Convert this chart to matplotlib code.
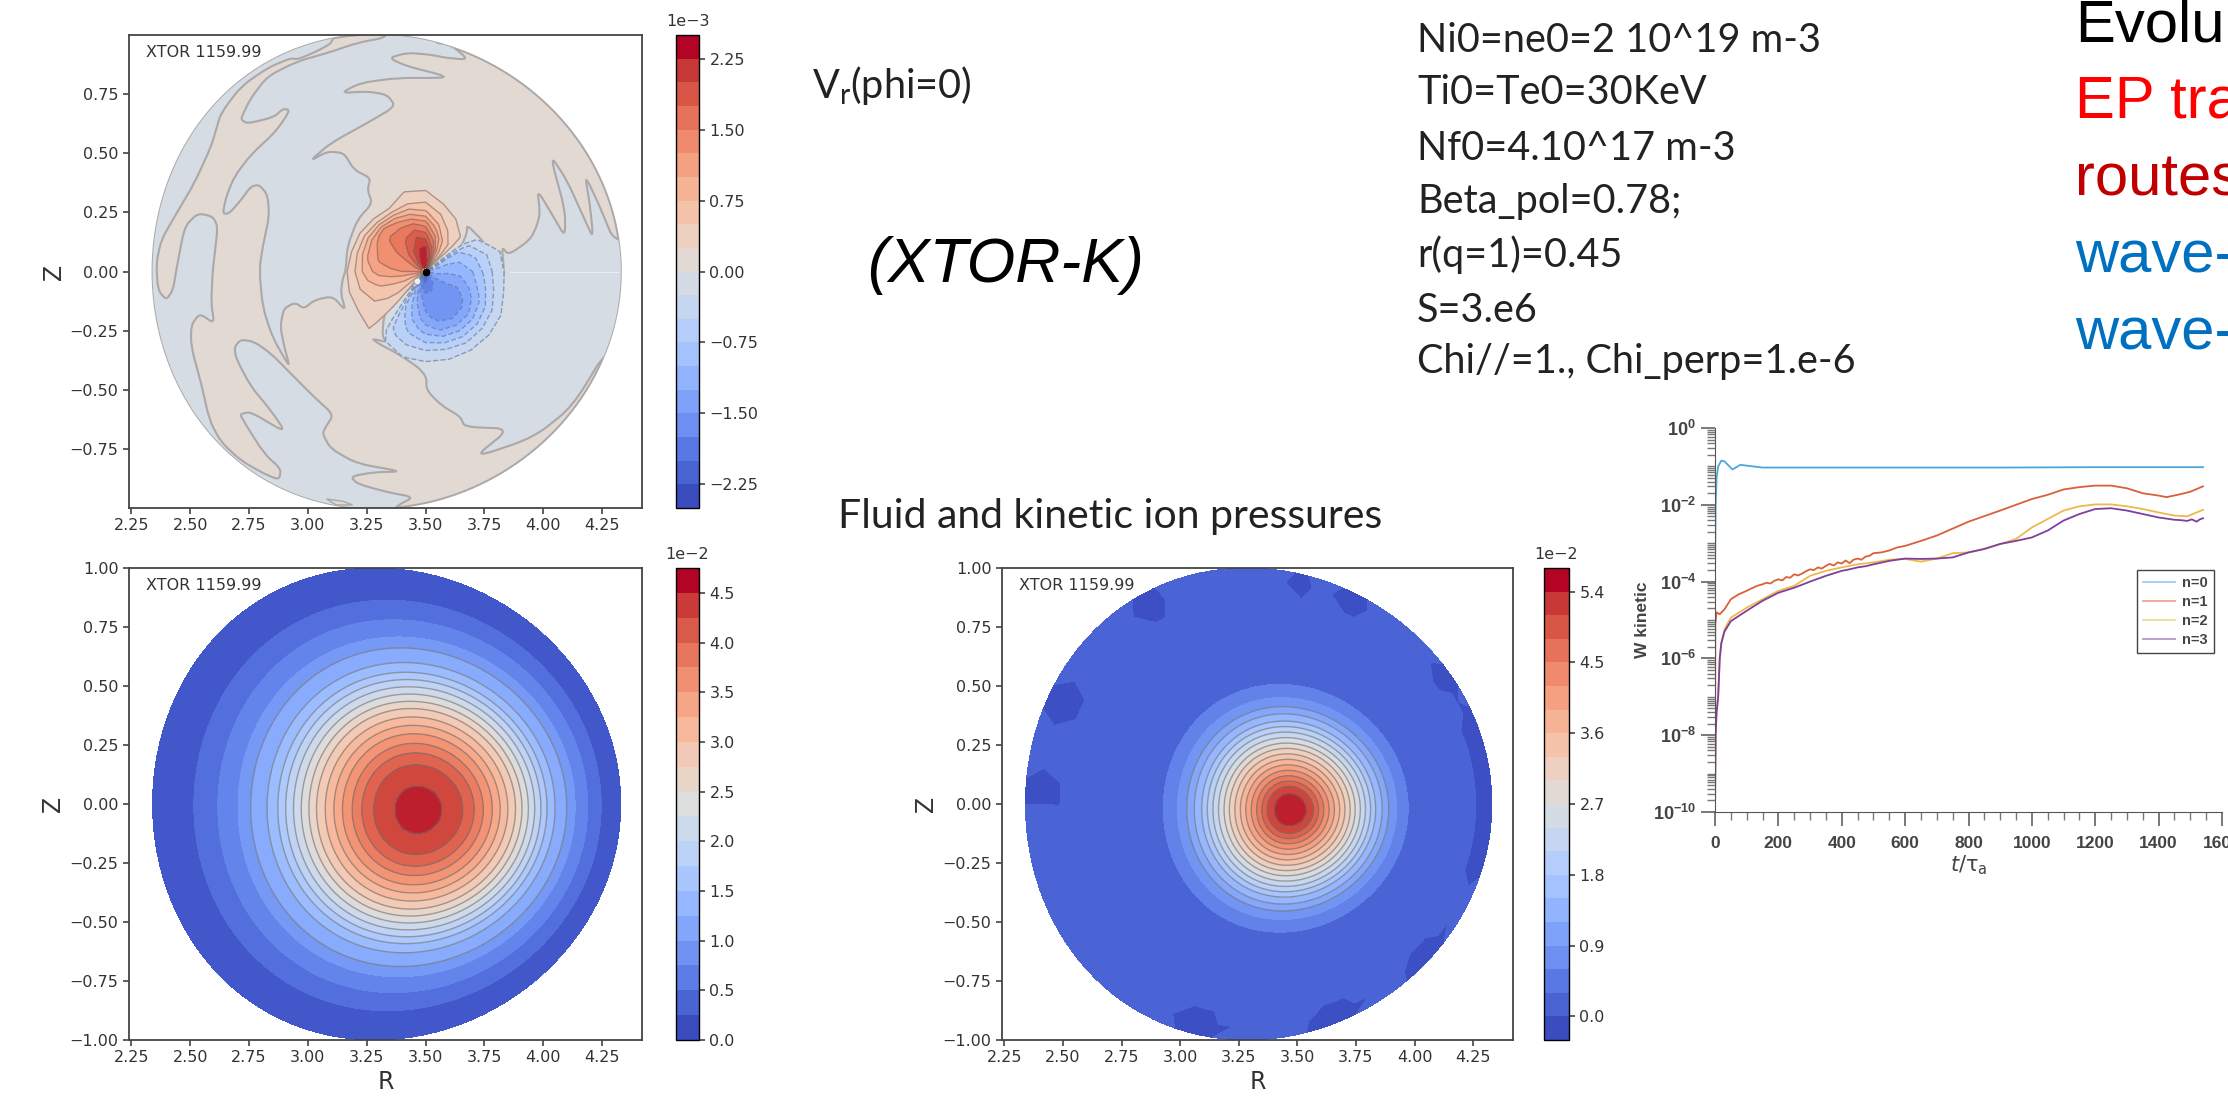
import numpy as np
import matplotlib
matplotlib.use("Agg")
from matplotlib import pyplot as plt
from matplotlib import cm
from matplotlib.colors import BoundaryNorm, Normalize
from matplotlib.path import Path
from matplotlib.patches import PathPatch
from matplotlib.ticker import LogLocator, NullFormatter

W, H = 2228, 1099

# ---- Vr panel, levels in units of 1e-3 ----
vr_levels = [-2.5, -2.25, -2.0, -1.75, -1.5, -1.25, -1.0, -0.75, -0.5, -0.25, 0.0,
             0.25, 0.5, 0.75, 1.0, 1.25, 1.5, 1.75, 2.0, 2.25, 2.5]
vr_ticks = [-2.25, -1.5, -0.75, 0.0, 0.75, 1.5, 2.25]

# zero contour, grey regions (R, Z)
rim_zero = [(3.112, .972), (3.055, .937), (2.956, .894), (2.928, .901), (2.829, .859), (2.716, .781),
            (2.631, .669), (2.61, .598), (2.589, .528), (2.518, .373), (2.434, .232), (2.377, .133),
            (2.356, .035), (2.363, -.078), (2.398, -.12), (2.427, -.078), (2.441, .006), (2.476, .19),
            (2.533, .246), (2.596, .232), (2.617, .19), (2.603, .063), (2.596, .006), (2.589, -.135),
            (2.603, -.22), (2.54, -.177), (2.504, -.227), (2.504, -.318), (2.547, -.473), (2.582, -.628),
            (2.631, -.72), (2.716, -.798), (2.815, -.854), (2.878, -.879), (2.886, -.833), (2.815, -.77),
            (2.716, -.614), (2.716, -.6), (2.759, -.593), (2.907, -.681), (2.843, -.586), (2.759, -.487),
            (2.695, -.367), (2.688, -.318), (2.716, -.287), (2.773, -.297), (2.843, -.346), (2.928, -.431),
            (3.027, -.53), (3.109, -.604), (3.076, -.656), (3.062, -.684), (3.097, -.748), (3.21, -.811),
            (3.401, -.844), (3.281, -.847), (3.182, -.865), (3.21, -.896), (3.337, -.931), (3.45, -.952),
            (3.38, -.988), (3.366, -1.01), (3.30, -1.15), (2.0, -1.15), (2.0, 1.15), (3.11, 1.15)]

spiral_zero = [(3.344, .99), (3.344, 1.1), (3.535, 1.1), (3.535, .965), (3.605, .958), (3.683, .894),
               (3.591, .901), (3.521, .915), (3.422, .923), (3.344, .901), (3.422, .866), (3.563, .831),
               (3.584, .817), (3.38, .817), (3.224, .796), (3.14, .753), (3.253, .76), (3.337, .746),
               (3.373, .697), (3.253, .627), (3.097, .542), (3.006, .464), (3.083, .507), (3.154, .5),
               (3.196, .429), (3.267, .394), (3.253, .345), (3.274, .288), (3.21, .218), (3.168, .105),
               (3.161, .006), (3.147, -.036), (3.14, -.093), (3.161, -.166), (3.105, -.104), (3.027, -.121),
               (2.984, -.157), (2.945, -.131), (2.897, -.157), (2.883, -.234), (2.9, -.318), (2.921, -.395),
               (2.907, -.377), (2.85, -.278), (2.808, -.15), (2.794, .006), (2.808, .105), (2.836, .232),
               (2.829, .323), (2.794, .366), (2.758, .359), (2.716, .302), (2.667, .246), (2.638, .243),
               (2.653, .316), (2.688, .401), (2.758, .493), (2.857, .584), (2.907, .652), (2.921, .683),
               (2.893, .686), (2.857, .652), (2.744, .624), (2.716, .641), (2.723, .662), (2.758, .732),
               (2.829, .824), (2.956, .887), (3.083, .922), (3.21, .965)]

right_zero = [(4.304, .119), (4.241, .274), (4.177, .408), (4.198, .288), (4.213, .14), (4.177, .218),
              (4.1, .387), (4.029, .493), (4.093, .26), (4.093, .147), (4.043, .232), (3.975, .345),
              (3.987, .246), (3.972, .19), (3.944, .133), (3.852, .07), (3.824, .105), (3.834, .006),
              (3.824, -.092), (3.782, -.191), (3.803, -.092), (3.815, -.022), (3.796, .049), (3.747, .126),
              (3.676, .197), (3.676, .161), (3.648, .098), (3.563, .042), (3.514, -.001), (3.408, -.092),
              (3.344, -.135), (3.323, -.191), (3.316, -.275), (3.34, -.299), (3.27, -.283), (3.312, -.311),
              (3.369, -.339), (3.468, -.403), (3.504, -.445), (3.504, -.5), (3.567, -.565), (3.648, -.612),
              (3.666, -.656), (3.859, -.663), (3.703, -.787), (3.96, -.70), (4.125, -.569), (4.281, -.313),
              (4.6, -.31), (4.6, .12)]

bottom_sliver = [(3.08, -.96), (3.15, -.97), (3.19, -.985), (3.12, -.985)]

# dipole around (3.5, 0): rows are angle, columns are radius
core_r = [0.015, 0.05, 0.1, 0.15, 0.2, 0.25, 0.3, 0.34, 0.38, 0.42]
core_deg = [0, 15, 30, 45, 60, 75, 90, 105, 120, 135, 150, 165, 180, 195, 210, 225, 240, 255, 270, 285,
            300, 315, 330, 345, 360]
core_v = [
    [-1.1, -1.1, -1.2, -1.15, -1.0, -.7, -.4, -.22, -.05, -.05],
    [-.9, -1.0, -1.05, -1.0, -.85, -.6, -.35, -.2, -.05, -.05],
    [-.4, -.6, -.8, -.8, -.6, -.3, -.1, -.05, -.05, -.05],
    [.3, .3, .4, .4, .3, .05, .05, .05, .05, .05],
    [1.1, 1.0, .9, .7, .45, .28, .05, .05, .05, .05],
    [2.3, 2.1, 1.8, 1.3, .8, .5, .22, .05, .05, .05],
    [2.45, 2.4, 2.3, 1.9, 1.4, .8, .45, .26, .05, .05],
    [2.45, 2.4, 2.25, 2.0, 1.6, 1.0, .45, .3, .05, .05],
    [2.3, 2.2, 2.0, 1.8, 1.6, 1.15, .3, .05, .05, .05],
    [2.0, 1.9, 1.75, 1.65, 1.55, 1.3, .35, .05, .05, .05],
    [1.8, 1.6, 1.5, 1.45, 1.4, 1.2, .5, .05, .05, .05],
    [1.5, 1.4, 1.4, 1.35, 1.3, 1.05, .5, .1, .05, .05],
    [1.2, 1.25, 1.25, 1.2, 1.1, .9, .5, .2, .05, .05],
    [.9, .9, .9, .85, .8, .65, .45, .22, .05, .05],
    [.4, .6, .65, .6, .55, .5, .4, .2, .05, .05],
    [.0, .1, .3, .4, .4, .35, .3, .25, .05, .05],
    [-1.8, -1.3, -.9, -.8, -.65, -.55, -.45, -.25, -.05, -.05],
    [-2.3, -1.9, -1.4, -1.2, -1.05, -.85, -.6, -.4, -.22, -.05],
    [-2.4, -2.0, -1.7, -1.55, -1.4, -1.1, -.75, -.45, -.25, -.05],
    [-2.2, -1.9, -1.7, -1.7, -1.6, -1.3, -.85, -.5, -.27, -.05],
    [-2.0, -1.8, -1.65, -1.7, -1.7, -1.35, -.9, -.55, -.27, -.05],
    [-1.8, -1.6, -1.6, -1.7, -1.6, -1.3, -.85, -.5, -.25, -.05],
    [-1.5, -1.45, -1.5, -1.55, -1.4, -1.1, -.7, -.4, -.2, -.05],
    [-1.3, -1.3, -1.35, -1.35, -1.15, -.85, -.5, -.27, -.05, -.05],
    [-1.1, -1.1, -1.2, -1.15, -1.0, -.7, -.4, -.22, -.05, -.05],
]

# ---- fluid pressure, units of 1e-2 ----
p_levels = [0.0, 0.25, 0.5, 0.75, 1.0, 1.25, 1.5, 1.75, 2.0, 2.25, 2.5, 2.75, 3.0, 3.25, 3.5, 3.75,
            4.0, 4.25, 4.5, 4.75]
p_ticks = [0.0, 0.5, 1.0, 1.5, 2.0, 2.5, 3.0, 3.5, 4.0, 4.5]
p_rho = [0.0, .10, .19, .24, .28, .32, .355, .39, .425, .455, .485, .515, .545, .575, .615, .675,
         .72, .79, .87, 1.0]
p_val = [4.75, 4.5, 4.25, 4.0, 3.75, 3.5, 3.25, 3.0, 2.75, 2.5, 2.25, 2.0, 1.75, 1.5, 1.25, 1.0,
         0.75, 0.5, 0.25, 0.0]

# ---- kinetic pressure, units of 1e-2 ----
k_levels = [-0.3, 0.0, 0.3, 0.6, 0.9, 1.2, 1.5, 1.8, 2.1, 2.4, 2.7, 3.0, 3.3, 3.6, 3.9, 4.2, 4.5,
            4.8, 5.1, 5.4, 5.7]
k_ticks = [0.0, 0.9, 1.8, 2.7, 3.6, 4.5, 5.4]
k_fill_levels = [-0.3, -0.2, 0.3, 0.6, 0.9, 1.2, 1.5, 1.8, 2.1, 2.4, 2.7, 3.0, 3.3, 3.6, 3.9, 4.2, 4.5,
                 4.8, 5.1, 5.4, 5.7]
k_rho = [0.0, .068, .099, .122, .144, .167, .19, .213, .236, .259, .281, .304, .327, .35, .373, .403,
         .433, .47, .525, .7, .84, .9, .95, 1.0]
k_val = [5.7, 5.4, 5.1, 4.8, 4.5, 4.2, 3.9, 3.6, 3.3, 3.0, 2.7, 2.4, 2.1, 1.8, 1.5, 1.2, 0.9, 0.6, 0.3,
         0.1, 0.1, 0.1, 0.1, 0.1]
# angle ranges (deg) where the edge of the kinetic pressure drops below the main blue
k_dips = [(170, 190), (146, 160), (112, 124), (58, 70), (73, 82), (28, 40), (-22, 27), (-50, -33),
          (-77, -60), (-112, -96), (203, 217), (226, 234)]

# ---- kinetic energy, log10 ----
t0 = [0, 2, 5, 10, 20, 30, 55, 80, 100, 150, 300, 600, 900, 1200, 1540]
n0 = [-4.0, -2.0, -1.3, -1.0, -0.85, -0.87, -1.08, -0.96, -0.98, -1.03, -1.03, -1.03, -1.03, -1.02, -1.02]
t1 = [0, 1, 5, 15, 30, 50, 75, 100, 112, 125, 137, 150, 162, 175, 187, 200, 212, 225, 237, 250, 262, 275,
      287, 300, 312, 325, 337, 350, 362, 375, 387, 400, 412, 425, 437, 450, 462, 475, 487, 500, 525, 550,
      575, 600, 650, 700, 800, 900, 1000, 1050, 1100, 1150, 1200, 1250, 1300, 1350, 1400, 1425, 1460,
      1500, 1540]
n1 = [-10.0, -5.11, -4.8, -4.85, -4.72, -4.46, -4.33, -4.24, -4.19, -4.14, -4.1, -4.07, -4.03, -4.05, -3.98,
      -3.94, -3.97, -3.88, -3.9, -3.81, -3.84, -3.79, -3.73, -3.68, -3.7, -3.63, -3.66, -3.59, -3.54, -3.58,
      -3.5, -3.53, -3.45, -3.52, -3.43, -3.4, -3.43, -3.35, -3.33, -3.26, -3.24, -3.19, -3.11, -3.07, -2.94,
      -2.8, -2.44, -2.15, -1.85, -1.74, -1.6, -1.54, -1.5, -1.5, -1.57, -1.7, -1.76, -1.8, -1.74, -1.66, -1.52]
t2 = [0, 2, 5, 10, 15, 20, 30, 50, 100, 150, 200, 250, 300, 350, 400, 450, 500, 550, 600, 650, 700, 750,
      800, 850, 900, 950, 1000, 1050, 1100, 1150, 1200, 1250, 1300, 1350, 1400, 1450, 1490, 1520, 1540]
n2 = [-10.0, -8.0, -7.4, -7.0, -6.0, -5.6, -5.24, -4.94, -4.68, -4.46, -4.24, -4.11, -3.85, -3.72, -3.63,
      -3.55, -3.5, -3.43, -3.41, -3.48, -3.4, -3.26, -3.24, -3.15, -3.02, -2.89, -2.59, -2.37, -2.15, -2.04,
      -1.99, -1.99, -2.04, -2.11, -2.2, -2.28, -2.3, -2.2, -2.13]
t3 = [0, 2, 5, 10, 15, 20, 30, 50, 100, 150, 200, 250, 300, 350, 400, 425, 450, 475, 500, 550, 600, 650,
      700, 750, 800, 850, 900, 950, 1000, 1050, 1100, 1150, 1200, 1250, 1300, 1350, 1400, 1425, 1450, 1470,
      1490, 1505, 1520, 1530, 1540]
n3 = [-10.0, -8.0, -7.4, -7.0, -6.0, -5.6, -5.3, -5.03, -4.76, -4.5, -4.29, -4.16, -4.0, -3.85, -3.72, -3.68,
      -3.63, -3.6, -3.55, -3.46, -3.4, -3.41, -3.4, -3.37, -3.24, -3.15, -3.02, -2.94, -2.85, -2.67, -2.41,
      -2.24, -2.11, -2.09, -2.15, -2.24, -2.33, -2.36, -2.39, -2.4, -2.42, -2.38, -2.44, -2.38, -2.35]
mode_names = ["n=0", "n=1", "n=2", "n=3"]
mode_colors = ["#4ea6d8", "#d9603a", "#edb94a", "#7e3f9e"]

# ---- slide text ----
params = ["Ni0=ne0=2 10^19 m-3", "Ti0=Te0=30KeV", "Nf0=4.10^17 m-3", "Beta_pol=0.78;", "r(q=1)=0.45",
          "S=3.e6", "Chi//=1., Chi_perp=1.e-6"]
params_y = [52, 104, 160, 213, 267, 322, 373]
right_text = ["Evolu", "EP tra", "routes", "wave-", "wave-"]
right_colors = ["#000000", "#ff0000", "#c00000", "#0070c0", "#0070c0"]
right_y = [42, 118, 196, 273, 349]


def px_axes(x0, y0, x1, y1):
    return fig.add_axes([x0 / W, 1 - y1 / H, (x1 - x0) / W, (y1 - y0) / H])


def px_text(x, y, s, **kw):
    fig.text(x / W, 1 - y / H, s, va="baseline", **kw)


def surface(rho, th):
    # flux surfaces of the D-shaped plasma, axis pushed outward
    R = 3.335 + 0.135 * (1 - rho ** 3) + 0.995 * rho * np.cos(th + 0.05 * np.sin(th))
    Z = 1.0 * rho * np.sin(th) - 0.025 * (1 - rho ** 2)
    return R, Z


def rounded_outline(points, cut=0.35):
    # closed path through the traced points with the corners rounded off
    pts = np.array(points)
    verts, codes = [], []
    n = len(pts)
    for i in range(n):
        p, a, b = pts[i], pts[i - 1], pts[(i + 1) % n]
        verts += [p + cut * (a - p), p, p + cut * (b - p)]
        codes += [Path.MOVETO if i == 0 else Path.LINETO, Path.CURVE3, Path.CURVE3]
    verts.append(verts[0])
    codes.append(Path.CLOSEPOLY)
    return Path(verts, codes)


def style_field(ax, yticks, xlim, ylim):
    ax.set_xlim(xlim)
    ax.set_ylim(ylim)
    ax.set_xticks([2.25, 2.5, 2.75, 3.0, 3.25, 3.5, 3.75, 4.0, 4.25])
    ax.set_xticklabels(["%.2f" % v for v in ax.get_xticks()])
    ax.set_yticks(yticks)
    ax.set_yticklabels([("%.2f" % v).replace("-", "\u2212") for v in yticks])
    ax.tick_params(labelsize=11.5, length=4, width=1.1, color="#333333", labelcolor="#333333")
    for s in ax.spines.values():
        s.set_linewidth(1.3)
        s.set_color("#444444")
    ax.text(0.034, 0.962, "XTOR 1159.99", transform=ax.transAxes, fontsize=11.5, color="#333333",
            va="center")


def field_bar(cax, levels, ticks, fmt, exp):
    mappable = cm.ScalarMappable(BoundaryNorm(levels, 256), cmap="coolwarm")
    cb = fig.colorbar(mappable, cax=cax, ticks=ticks, spacing="proportional")
    cb.ax.minorticks_off()
    cb.ax.set_yticklabels([(fmt % v).replace("-", "\u2212") for v in ticks])
    cb.ax.tick_params(labelsize=11.5, length=4, width=1.1, color="#333333", labelcolor="#333333")
    cb.outline.set_linewidth(1.0)
    cax.text(0.5, 1.012, exp, transform=cax.transAxes, ha="center", va="bottom", fontsize=11.5,
             color="#333333")


def nested_field(ax, rho, val, fill_levels, line_levels):
    th = np.deg2rad(np.arange(-180, 181, 3))
    rr, tt = np.meshgrid(rho, th, indexing="ij")
    R, Z = surface(rr, tt)
    norm = Normalize(fill_levels[0], fill_levels[-1])
    ax.contourf(R, Z, val, levels=fill_levels, cmap="coolwarm", norm=norm)
    ax.contour(R, Z, val, levels=line_levels, colors="#6e6e6e", alpha=0.6, linewidths=1.0,
               linestyles="solid")


plt.rcParams["font.family"] = "DejaVu Sans"
plt.rcParams["mathtext.default"] = "regular"
fig = plt.figure(figsize=(W / 100, H / 100), dpi=100, facecolor="white")

xlim = (2.24, 4.42)

# Vr(phi=0)
ax = px_axes(129, 35, 642, 508)
norm = Normalize(vr_levels[0], vr_levels[-1])
beige = plt.get_cmap("coolwarm")(norm(0.125))
grey = plt.get_cmap("coolwarm")(norm(-0.125))
line_col = "#aaa8a8"
th = np.deg2rad(np.arange(-180, 181, 2))
dR, dZ = surface(1.0, th)
disk = ax.fill(dR, dZ, fc=beige, ec=line_col, lw=1.4)[0]
for outline in [rim_zero, spiral_zero, right_zero]:
    patch = PathPatch(rounded_outline(outline), fc=grey, ec=line_col, lw=1.5)
    ax.add_patch(patch)
    patch.set_clip_path(disk)
pts = np.array(bottom_sliver)
ax.fill(pts[:, 0], pts[:, 1], fc=beige, ec=line_col, lw=1.0)
ax.plot([3.86, 4.32], [0.0, 0.0], color="white", lw=0.8, alpha=0.5)

rr, tt = np.meshgrid(core_r, np.deg2rad(core_deg))
cR = 3.5 + rr * np.cos(tt)
cZ = rr * np.sin(tt)
cV = np.array(core_v)
ax.contourf(cR, cZ, cV, levels=vr_levels[11:], cmap="coolwarm", norm=norm)
ax.contourf(cR, cZ, cV, levels=vr_levels[:10], cmap="coolwarm", norm=norm)
ax.contour(cR, cZ, cV, levels=vr_levels[11:-1], colors="#7a615a", alpha=0.55, linewidths=1.0)
ax.contour(cR, cZ, cV, levels=vr_levels[1:10], colors="#5d7098", alpha=0.6, linewidths=1.0,
           linestyles="dashed")
ax.plot([3.5], [0.0], "o", color="black", ms=4.5)
ax.plot([3.465], [-0.04], "o", color="white", ms=3, alpha=0.8)
style_field(ax, [-0.75, -0.5, -0.25, 0.0, 0.25, 0.5, 0.75], xlim, (-0.998, 0.998))
ax.set_ylabel("Z", fontsize=17, color="#333333", labelpad=3)
field_bar(px_axes(676, 35, 699, 508), vr_levels, vr_ticks, "%.2f", "1e\u22123")

# fluid pressure
ax = px_axes(129, 568, 642, 1040)
val = np.tile(np.array(p_val)[:, None], (1, 121))
nested_field(ax, p_rho, val, p_levels, p_levels[4:-1])
style_field(ax, [-1, -0.75, -0.5, -0.25, 0.0, 0.25, 0.5, 0.75, 1.0], xlim, (-1.0, 1.0))
ax.set_xlabel("R", fontsize=17, color="#333333", labelpad=3)
ax.set_ylabel("Z", fontsize=17, color="#333333", labelpad=3)
field_bar(px_axes(676, 568, 699, 1040), p_levels, p_ticks, "%.1f", "1e\u22122")

# kinetic ion pressure
ax = px_axes(1002, 568, 1513, 1040)
val = np.tile(np.array(k_val)[:, None], (1, 121))
deg = np.arange(-180, 181, 3)
for a, b in k_dips:
    for rho, shrink in [(.9, 4), (.95, 0), (1.0, 2)]:
        val[k_rho.index(rho), (deg >= a + shrink) & (deg <= b - shrink)] = -0.25
nested_field(ax, k_rho, val, k_fill_levels, k_fill_levels[4:-1])
style_field(ax, [-1, -0.75, -0.5, -0.25, 0.0, 0.25, 0.5, 0.75, 1.0], xlim, (-1.0, 1.0))
ax.set_xlabel("R", fontsize=17, color="#333333", labelpad=3)
ax.set_ylabel("Z", fontsize=17, color="#333333", labelpad=3)
field_bar(px_axes(1544, 568, 1569, 1040), k_levels, k_ticks, "%.1f", "1e\u22122")

# W kinetic
ax = px_axes(1715, 428, 2222, 812)
for tv, nv, name, col in zip([t0, t1, t2, t3], [n0, n1, n2, n3], mode_names, mode_colors):
    ax.plot(tv, 10.0 ** np.array(nv), color=col, lw=1.3, label=name)
ax.set_yscale("log")
ax.set_xlim(0, 1600)
ax.set_ylim(1e-10, 1)
ax.spines["top"].set_visible(False)
ax.spines["right"].set_visible(False)
ax.set_xticks([0, 200, 400, 600, 800, 1000, 1200, 1400, 1600])
ax.set_xticks(np.arange(0, 1601, 50), minor=True)
ax.set_yticks([10.0 ** e for e in range(-10, 1, 2)])
ax.set_yticklabels(["$10^{%d}$" % e for e in range(-10, 1, 2)])
ax.yaxis.set_minor_locator(LogLocator(base=10, subs=np.arange(1, 10), numticks=30))
ax.yaxis.set_minor_formatter(NullFormatter())
for label in ax.get_xticklabels() + ax.get_yticklabels():
    label.set_family("Liberation Sans")
    label.set_fontweight("bold")
ax.tick_params(which="major", labelsize=13, length=10, width=1.1, color="#555555", labelcolor="#444444")
ax.tick_params(which="minor", length=6, width=1.0, color="#777777")
ax.tick_params(axis="x", which="major", labelsize=12.5, pad=7)
ax.spines["left"].set_color("#555555")
ax.spines["bottom"].set_color("#555555")
ax.set_ylabel("W kinetic", fontsize=12.5, fontweight="bold", family="Liberation Sans", color="#444444",
              labelpad=2)
ax.set_xlabel(r"$\mathit{t}/\tau_a$", fontsize=15, color="#444444", labelpad=2)
leg = ax.legend(loc="upper left", bbox_to_anchor=(0.832, 0.630), fancybox=False, framealpha=1,
                edgecolor="#444444", borderpad=0.4, labelspacing=0.35, handlelength=2.2, handletextpad=0.5,
                borderaxespad=0, prop={"family": "Liberation Sans", "weight": "bold", "size": 10.5})
for line in leg.get_lines():
    line.set_alpha(0.55)
for t in leg.get_texts():
    t.set_color("#444444")

# slide text
for s, y in zip(params, params_y):
    px_text(1417, y, s, fontsize=28.5, family="Lato", color="#222222")
px_text(812, 98, "V$_r$(phi=0)", fontsize=28.5, family="Lato", color="#222222")
px_text(867, 282, "(XTOR-K)", fontsize=45, family="Liberation Sans", style="italic", color="black")
px_text(838, 528, "Fluid and kinetic ion pressures", fontsize=29.5, family="Lato", color="#222222")
for s, c, y in zip(right_text, right_colors, right_y):
    px_text(2075, y, s, fontsize=43, family="Liberation Sans", color=c)

fig.savefig("out.png", dpi=100)
